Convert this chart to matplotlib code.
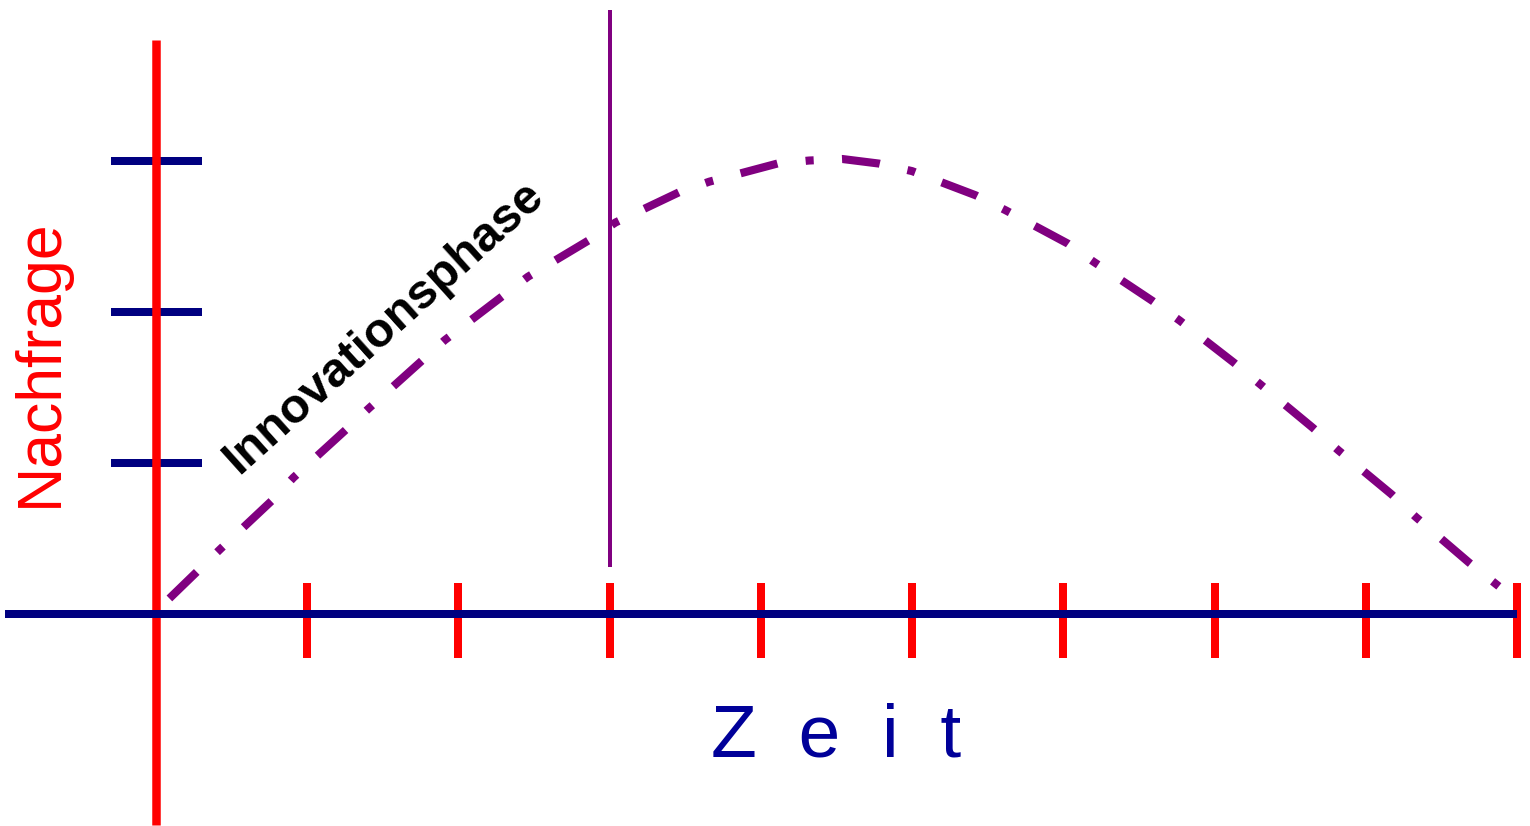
import matplotlib
matplotlib.use("Agg")
import matplotlib.pyplot as plt

plt.rcParams["font.family"] = ["Liberation Sans", "DejaVu Sans"]

# axis ticks (time steps and demand levels)
time_ticks = [1, 2, 3, 4, 5, 6, 7, 8, 9]
demand_ticks = [1, 2, 3]
phase_end = 3  # end of the innovation phase

# product life cycle curve
curve_t = [0.09, 0.43, 0.77, 0.91, 1.26, 1.41, 1.91, 2.46, 2.86, 3.04,
           3.46, 3.66, 4.11, 4.32, 4.54, 4.78, 5.00, 5.42, 5.62, 6.03,
           6.20, 6.59, 6.77, 7.13, 7.30, 7.65, 7.82, 8.17, 8.33, 8.68, 8.88]
curve_n = [0.10, 0.43, 0.75, 0.90, 1.22, 1.36, 1.81, 2.23, 2.47, 2.59,
           2.79, 2.86, 2.98, 3.00, 3.01, 2.98, 2.93, 2.77, 2.67, 2.45,
           2.33, 2.07, 1.94, 1.66, 1.52, 1.23, 1.08, 0.79, 0.64, 0.34, 0.18]

NAVY = "#000080"
RED = "#ff0000"
PURPLE = "#800080"

fig = plt.figure(figsize=(15.3, 8.26), dpi=100)
ax = fig.add_axes([0, 0, 1, 1])
ax.set_xlim(-1.03, 9.086)
ax.set_ylim(-1.407, 4.063)
ax.axis("off")

px = 72 / 100  # points per pixel

# demand ticks (under the red axis)
for d in demand_ticks:
    ax.plot([-0.296, 0.306], [d, d], color=NAVY, lw=8 * px,
            solid_capstyle="butt", zorder=1)

# vertical axis
ax.plot([0, 0], [-1.40, 3.80], color=RED, lw=8.5 * px,
        solid_capstyle="butt", zorder=2)

# time ticks
for t in time_ticks:
    ax.plot([t, t], [-0.295, 0.20], color=RED, lw=8 * px,
            solid_capstyle="butt", zorder=2)

# horizontal axis on top
ax.plot([-0.997, 9.0], [0, 0], color=NAVY, lw=8 * px,
        solid_capstyle="butt", zorder=3)

# end of innovation phase
ax.plot([phase_end, phase_end], [0.308, 4.0], color=PURPLE, lw=4 * px,
        solid_capstyle="butt", zorder=3)

# demand curve
ax.plot(curve_t, curve_n, color=PURPLE, lw=8.1 * px,
        linestyle=(0, (4.7, 3.5, 1.0, 3.5)), dash_capstyle="butt",
        dash_joinstyle="miter", zorder=4)

ax.text(-0.765, 1.66, "Nachfrage", color=RED, fontsize=45, rotation=90,
        ha="center", va="center")
ax.text(4.5, -0.95, "Z  e  i  t", color="#000099", fontsize=54,
        ha="center", va="baseline")
ax.text(1.51, 1.90, "Innovationsphase", color="black", fontsize=35,
        fontweight="bold", rotation=42, rotation_mode="anchor",
        ha="center", va="center")

fig.savefig("out.png", dpi=100, facecolor="white")
